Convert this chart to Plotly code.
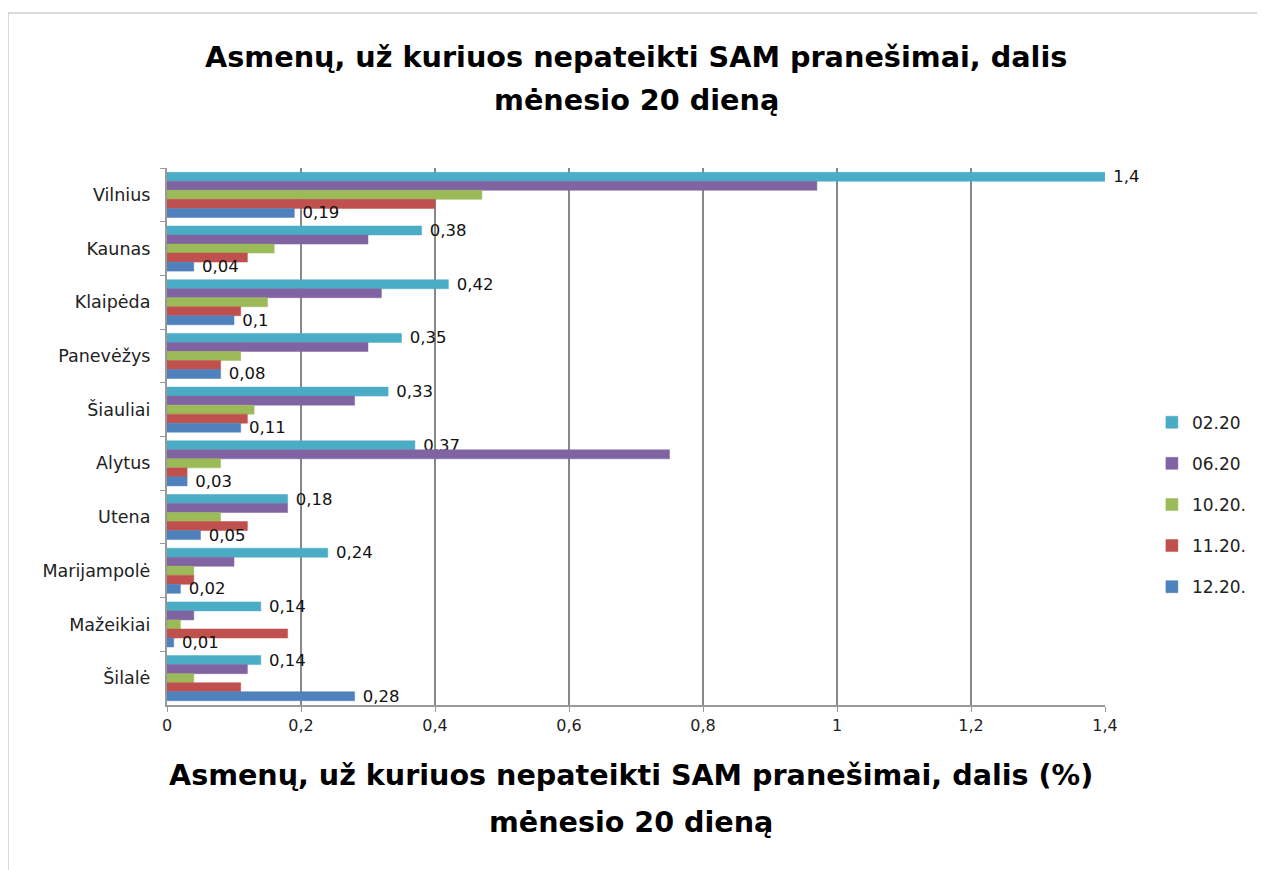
import plotly.graph_objects as go

cities = ["Vilnius", "Kaunas", "Klaipėda", "Panevėžys", "Šiauliai", "Alytus",
          "Utena", "Marijampolė", "Mažeikiai", "Šilalė"]
series_names = ["02.20", "06.20", "10.20.", "11.20.", "12.20."]
colors = ["#4BACC6", "#8064A2", "#9BBB59", "#C0504D", "#4F81BD"]

v_0220 = [1.4, 0.38, 0.42, 0.35, 0.33, 0.37, 0.18, 0.24, 0.14, 0.14]
v_0620 = [0.97, 0.30, 0.32, 0.30, 0.28, 0.75, 0.18, 0.10, 0.04, 0.12]
v_1020 = [0.47, 0.16, 0.15, 0.11, 0.13, 0.08, 0.08, 0.04, 0.02, 0.04]
v_1120 = [0.40, 0.12, 0.11, 0.08, 0.12, 0.03, 0.12, 0.04, 0.18, 0.11]
v_1220 = [0.19, 0.04, 0.10, 0.08, 0.11, 0.03, 0.05, 0.02, 0.01, 0.28]

all_values = [v_0220, v_0620, v_1020, v_1120, v_1220]
labeled = [True, False, False, False, True]

x_ticks = [0, 0.2, 0.4, 0.6, 0.8, 1, 1.2, 1.4]
x_tick_text = ["0", "0,2", "0,4", "0,6", "0,8", "1", "1,2", "1,4"]

title_lines = ["Asmenų, už kuriuos nepateikti SAM pranešimai, dalis", "mėnesio 20 dieną"]
axis_title_lines = ["Asmenų, už kuriuos nepateikti SAM pranešimai, dalis (%)", "mėnesio 20 dieną"]

FONT = "DejaVu Sans"

fig = go.Figure()
for name, vals, col, lab in zip(series_names, all_values, colors, labeled):
    fig.add_trace(go.Bar(
        y=cities, x=vals, name=name, orientation="h", legendgroup=name,
        marker=dict(color=col, line=dict(color=col, width=0.5)),
        text=["\u00a0" + ("%g" % v).replace(".", ",") for v in vals] if lab else None,
        textposition="outside" if lab else "none",
        textfont=dict(family=FONT, size=16.5, color="#111111"),
        constraintext="none",
        cliponaxis=False,
    ))

annotations = []
for txt, yy in zip(title_lines, [1.2067, 1.1266]):
    annotations.append(dict(text="<b>%s</b>" % txt, xref="paper", yref="paper", x=0.5, y=yy,
                            xanchor="center", yanchor="middle", showarrow=False,
                            font=dict(family=FONT, size=28.7, color="black")))
for txt, yy in zip(axis_title_lines, [-0.1304, -0.2179]):
    annotations.append(dict(text="<b>%s</b>" % txt, xref="paper", yref="paper", x=0.495, y=yy,
                            xanchor="center", yanchor="middle", showarrow=False,
                            font=dict(family=FONT, size=28.6, color="black")))

fig.update_layout(
    width=1265, height=870,
    barmode="group", bargap=0.16, bargroupgap=0.0,
    paper_bgcolor="white", plot_bgcolor="white",
    margin=dict(l=159, r=168, t=160, b=173),
    font=dict(family=FONT, size=14, color="#222222"),
    xaxis=dict(range=[0, 1.4], tickvals=x_ticks, ticktext=x_tick_text,
               showgrid=True, gridcolor="#888888", gridwidth=2,
               zeroline=False, showline=True, linecolor="#999999", linewidth=2,
               ticks="outside", tickcolor="#999999", ticklen=5,
               tickfont=dict(family=FONT, size=16, color="#222222")),
    yaxis=dict(autorange="reversed", showline=True, linecolor="#999999", linewidth=2,
               ticks="outside", tickcolor="#999999", ticklen=5, tickson="boundaries",
               tickfont=dict(family=FONT, size=17.5, color="#222222"), ticksuffix="  "),
    legend=dict(x=1.05, xanchor="left", y=0.373, yanchor="middle",
                font=dict(family=FONT, size=17, color="#222222"), tracegroupgap=16,
                itemwidth=30),
    annotations=annotations,
    shapes=[dict(type="rect", xref="paper", yref="paper", x0=-0.1695, x1=1.175, y0=-0.36, y1=1.2886,
                 line=dict(color="#d0d0d0", width=1.5))],
)

fig.write_html("out.html")
